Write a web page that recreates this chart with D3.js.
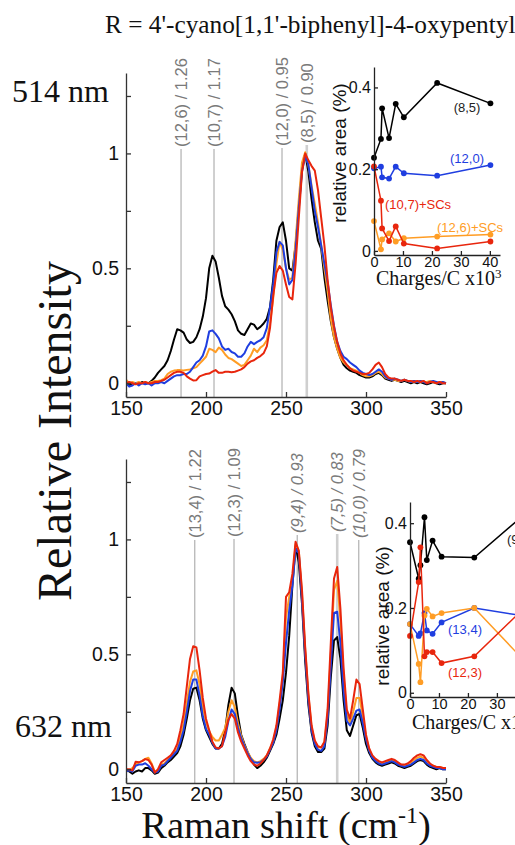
<!DOCTYPE html>
<html><head><meta charset="utf-8">
<script src="https://cdn.jsdelivr.net/npm/d3@7"></script>
<style>
  body { margin: 0; background: #fff; }
  svg { display: block; }
</style>
</head><body>
<svg id="fig" width="515" height="845"></svg>
<script>
// Raman shift grid (cm^-1) shared by all spectra
const shift = d3.range(150, 351, 2);

// 514 nm excitation, normalised intensity
const s514Black = [0.005,-0.01,0,0,-0.005,0.005,0,0,0.01,0.025,0.045,0.06,0.075,0.1,0.14,0.19,0.235,0.23,0.22,0.19,0.175,0.18,0.2,0.235,0.29,0.37,0.5,0.555,0.53,0.46,0.38,0.335,0.32,0.3,0.27,0.23,0.215,0.21,0.235,0.26,0.255,0.235,0.245,0.26,0.28,0.33,0.45,0.62,0.68,0.7,0.62,0.5,0.49,0.6,0.77,0.93,1.0,0.92,0.8,0.7,0.62,0.585,0.46,0.36,0.27,0.2,0.15,0.11,0.08,0.065,0.055,0.05,0.045,0.035,0.03,0.025,0.025,0.03,0.04,0.045,0.035,0.02,0.015,0.01,0.015,0.01,0.005,0.01,0.005,0,0.005,0,0.005,0,-0.005,0,0.005,0,-0.005,0,0];
const s514Blue = [0,-0.015,-0.01,0,-0.01,0,-0.005,0,-0.01,0,0,0.005,0,0.01,0.02,0.03,0.035,0.035,0.04,0.04,0.05,0.07,0.09,0.1,0.12,0.16,0.225,0.23,0.215,0.195,0.16,0.145,0.15,0.136,0.13,0.115,0.115,0.13,0.16,0.18,0.17,0.18,0.187,0.2,0.24,0.33,0.43,0.57,0.615,0.6,0.5,0.43,0.45,0.58,0.76,0.92,0.99,0.95,0.85,0.75,0.68,0.6,0.52,0.44,0.34,0.25,0.18,0.14,0.115,0.105,0.09,0.08,0.07,0.055,0.045,0.04,0.035,0.04,0.05,0.06,0.05,0.03,0.02,0.015,0.02,0.015,0.01,0.015,0.01,0.005,0.01,0.005,0.01,0.005,0,0.005,0.01,0.005,0,0.005,0];
const s514Orange = [0.015,0,0.005,0,0.005,0,0.005,0,0.005,0.01,0.01,0.013,0.02,0.04,0.05,0.055,0.057,0.057,0.055,0.058,0.06,0.065,0.07,0.085,0.1,0.115,0.15,0.145,0.135,0.155,0.145,0.125,0.11,0.105,0.095,0.085,0.075,0.08,0.1,0.12,0.15,0.135,0.155,0.165,0.187,0.26,0.37,0.52,0.615,0.58,0.5,0.45,0.46,0.62,0.8,0.96,1.005,0.95,0.86,0.78,0.7,0.6,0.5,0.4,0.28,0.2,0.15,0.11,0.09,0.08,0.065,0.06,0.055,0.045,0.035,0.03,0.03,0.035,0.045,0.05,0.04,0.025,0.02,0.015,0.015,0.01,0.01,0.015,0.01,0.005,0.01,0.005,0.01,0.005,0.005,0.01,0.005,0,0.005,0.005,0];
const s514Red = [0,0.005,0,-0.005,0,0,0.005,0,0,0.005,0.005,0.01,0.015,0.025,0.035,0.045,0.05,0.05,0.045,0.03,0.02,0.012,0.013,0.03,0.035,0.04,0.042,0.05,0.057,0.045,0.045,0.05,0.05,0.048,0.05,0.055,0.06,0.07,0.085,0.095,0.1,0.11,0.118,0.13,0.16,0.24,0.38,0.48,0.51,0.49,0.43,0.375,0.365,0.52,0.72,0.92,1.0,0.97,0.945,0.925,0.84,0.72,0.6,0.45,0.33,0.245,0.18,0.13,0.1,0.08,0.065,0.055,0.05,0.045,0.04,0.04,0.045,0.06,0.08,0.09,0.07,0.04,0.025,0.02,0.02,0.015,0.01,0.015,0.01,0.01,0.005,0.01,0.005,0.01,0,0.005,0.005,0,0.005,0,0];

// 632 nm excitation, normalised intensity
const s632Black = [0,-0.01,-0.02,-0.01,-0.005,-0.01,0.005,0.005,-0.005,-0.02,-0.015,0.005,0.015,0.03,0.04,0.055,0.07,0.1,0.15,0.22,0.3,0.35,0.355,0.3,0.22,0.17,0.14,0.11,0.09,0.09,0.11,0.17,0.28,0.355,0.33,0.23,0.15,0.11,0.075,0.045,0.02,0.005,0.015,0.03,0.05,0.08,0.11,0.15,0.22,0.3,0.42,0.58,0.8,0.97,0.9,0.72,0.47,0.28,0.16,0.1,0.075,0.075,0.09,0.19,0.4,0.56,0.575,0.48,0.3,0.17,0.145,0.19,0.235,0.24,0.18,0.11,0.07,0.045,0.03,0.02,0.015,0.02,0.025,0.03,0.025,0.015,0.01,0.005,0.01,0.015,0.025,0.035,0.04,0.035,0.02,0.01,0.005,0,0.005,0,0];
const s632Blue = [-0.01,-0.005,-0.01,0.015,0.02,0.02,0.026,0.015,0,-0.015,-0.01,0.015,0.02,0.035,0.05,0.065,0.08,0.12,0.17,0.25,0.34,0.39,0.39,0.32,0.23,0.175,0.15,0.115,0.09,0.09,0.1,0.14,0.21,0.26,0.24,0.18,0.135,0.1,0.07,0.045,0.03,0.028,0.03,0.04,0.055,0.085,0.115,0.17,0.26,0.38,0.55,0.69,0.8,0.96,0.94,0.74,0.5,0.3,0.17,0.11,0.085,0.08,0.1,0.22,0.45,0.68,0.685,0.55,0.34,0.21,0.19,0.22,0.255,0.26,0.2,0.13,0.08,0.05,0.035,0.025,0.02,0.025,0.03,0.035,0.03,0.02,0.015,0.01,0.015,0.02,0.03,0.04,0.045,0.04,0.025,0.015,0.01,0.005,0.005,0,0];
const s632Orange = [0,-0.005,0.005,0.02,0.03,0.035,0.045,0.05,0.025,-0.01,-0.005,0.02,0.025,0.04,0.055,0.07,0.09,0.14,0.2,0.29,0.38,0.425,0.43,0.37,0.27,0.205,0.165,0.14,0.125,0.125,0.15,0.18,0.25,0.3,0.27,0.2,0.145,0.105,0.075,0.05,0.035,0.03,0.035,0.045,0.06,0.09,0.12,0.18,0.28,0.4,0.66,0.75,0.82,0.98,0.95,0.76,0.52,0.32,0.18,0.12,0.095,0.095,0.115,0.24,0.5,0.78,0.82,0.65,0.4,0.24,0.2,0.25,0.31,0.31,0.23,0.14,0.085,0.055,0.04,0.03,0.025,0.03,0.035,0.04,0.035,0.025,0.02,0.015,0.02,0.03,0.04,0.05,0.055,0.05,0.035,0.02,0.015,0.01,0.01,0.005,0.005];
const s632Red = [0,0,-0.005,0.032,0.03,0.035,0.044,0.04,0.02,-0.015,0,0.03,0.04,0.05,0.06,0.08,0.11,0.17,0.24,0.36,0.48,0.535,0.53,0.43,0.31,0.22,0.17,0.12,0.095,0.09,0.1,0.16,0.215,0.24,0.22,0.16,0.12,0.09,0.06,0.035,0.02,0.015,0.025,0.04,0.06,0.09,0.13,0.19,0.3,0.42,0.75,0.77,0.85,0.99,0.95,0.78,0.53,0.33,0.19,0.125,0.1,0.095,0.12,0.26,0.55,0.83,0.88,0.7,0.44,0.26,0.22,0.3,0.39,0.37,0.26,0.15,0.09,0.06,0.045,0.035,0.03,0.035,0.04,0.045,0.04,0.03,0.02,0.02,0.025,0.035,0.05,0.06,0.065,0.06,0.04,0.025,0.015,0.01,0.01,0.005,0.005];

// Assigned RBM peaks: [label, shift, italic, highlighted]
const peaks514 = [["(12,6) / 1.26", 184.4, false, false], ["(10,7) / 1.17", 205, false, false], ["(12,0) / 0.95", 247.5, false, false], ["(8,5) / 0.90", 263, false, true]];
const peaks632 = [["(13,4) / 1.22", 193, false, false], ["(12,3) / 1.09", 217.5, false, false], ["(9,4) / 0.93", 257, true, false], ["(7,5) / 0.83", 282, true, true], ["(10,0) / 0.79", 295.5, true, false]];

// Doping series: relative area vs charges per carbon (x10^3)
const charge514 = [0, 2.4, 2.8, 5.2, 7.5, 10.3, 21.8, 40.2];
const area514_85 = [0.228, 0.274, 0.349, 0.276, 0.36, 0.327, 0.411, 0.361];
const area514_120 = [0.202, 0.206, 0.18, 0.177, 0.206, 0.19, 0.184, 0.21];
const area514_107 = [0.207, 0.123, 0.055, 0.024, 0.06, 0.018, 0.006, 0.023];
const area514_126 = [0.073, 0.004, 0.028, 0.043, 0.023, 0.031, 0.035, 0.04];

const charge632 = [0, 3.0, 3.6, 5.0, 5.8, 7.8, 10.9, 22.2, 40.2];
const area632_94 = [0.355, 0.269, 0.301, 0.414, 0.313, 0.359, 0.321, 0.319, 0.425];
const area632_134 = [0.162, 0.134, 0.14, 0.188, 0.147, 0.139, 0.166, 0.2, 0.18];
const area632_123 = [0.134, 0.261, 0.343, 0.086, 0.096, 0.096, 0.07, 0.086, 0.205];
const area632_SC = [0.162, 0.068, 0.025, 0.182, 0.198, 0.18, 0.188, 0.2, 0.07];

const C = { black: "#000000", blue: "#1f3ee0", orange: "#ff9d25", red: "#e8260d" };
const SANS = "'Liberation Sans', Arial, sans-serif";
const SERIF = "'Liberation Serif', 'Times New Roman', serif";

const svg = d3.select("#fig");
const x = d3.scaleLinear().domain([150, 350]).range([126, 446]);

function spectrumPanel(y0, y1, spectra, peaks, labelBottom) {
  const y = d3.scaleLinear().domain([-0.06, 1.35]).range([y1, y0]);
  const g = svg.append("g");

  // peak assignment markers
  peaks.forEach(([txt, v, ital, hi], i) => {
    const px = x(v);
    g.append("line")
      .attr("x1", px).attr("x2", px)
      .attr("y1", labelBottom[i] + 2).attr("y2", y1)
      .attr("stroke", hi ? "#cfcfcf" : "#a0a0a0")
      .attr("stroke-width", hi ? 2.6 : 1);
    g.append("text")
      .attr("transform", `translate(${px},${labelBottom[i]}) rotate(-90)`)
      .attr("dy", "0.36em")
      .attr("font-family", SANS).attr("font-size", 16.5)
      .attr("font-style", ital ? "italic" : "normal")
      .attr("fill", "#7a7a7a")
      .text(txt);
  });

  const clipId = "clip" + y0;
  svg.append("clipPath").attr("id", clipId)
    .append("rect").attr("x", 127).attr("y", y0).attr("width", 320).attr("height", y1 - y0 - 1);

  const line = d3.line().x((d, i) => x(shift[i])).y(d => y(d));
  const lg = g.append("g").attr("clip-path", `url(#${clipId})`);
  spectra.forEach(([vals, col]) => {
    lg.append("path").datum(vals)
      .attr("d", line).attr("fill", "none")
      .attr("stroke", col).attr("stroke-width", 2).attr("stroke-linejoin", "round");
  });

  const ax = g.append("g").attr("transform", `translate(0,${y1})`)
    .call(d3.axisBottom(x).tickValues([150, 200, 250, 300, 350]).tickSize(-5).tickSizeOuter(0).tickPadding(4));
  const ay = g.append("g").attr("transform", "translate(126,0)")
    .call(d3.axisLeft(y).tickValues([0, 0.25, 0.5, 0.75, 1, 1.25]).tickSize(-5).tickSizeOuter(0).tickPadding(7)
      .tickFormat(d => (d === 0 || d === 0.5 || d === 1) ? d3.format("")(d) : ""));
  [ax, ay].forEach(a => {
    a.selectAll("path,line").attr("stroke", "#333").attr("stroke-width", 1.3);
    a.selectAll("text").attr("font-family", SANS).attr("font-size", 19.5).attr("fill", "#111");
  });
}

spectrumPanel(73, 397,
  [[s514Black, C.black], [s514Orange, C.orange], [s514Blue, C.blue], [s514Red, C.red]],
  peaks514, [147, 147, 146, 143]);
spectrumPanel(459, 783,
  [[s632Black, C.black], [s632Orange, C.orange], [s632Blue, C.blue], [s632Red, C.red]],
  peaks632, [538, 537, 533, 532, 538]);

function inset(left, top, bottom, series, labels, xLabelX, xLabelGap, yLabelX, yLabelY) {
  const xs = d3.scaleLinear().domain([0, 43.5]).range([left, left + 126]);
  const ys = d3.scaleLinear().domain([-0.01, 0.45]).range([bottom, top]);
  const g = svg.append("g");
  const ln = d3.line().x(d => xs(d[0])).y(d => ys(d[1]));
  series.forEach(([xv, yv, col]) => {
    const pts = xv.map((c, i) => [c, yv[i]]);
    g.append("path").datum(pts).attr("d", ln).attr("fill", "none")
      .attr("stroke", col).attr("stroke-width", 1.5);
    g.selectAll(null).data(pts).enter().append("circle")
      .attr("cx", d => xs(d[0])).attr("cy", d => ys(d[1])).attr("r", 2.9).attr("fill", col);
  });
  const ax = g.append("g").attr("transform", `translate(0,${bottom})`)
    .call(d3.axisBottom(xs).tickValues([0, 10, 20, 30, 40]).tickSize(-4).tickSizeOuter(0).tickPadding(2));
  const ay = g.append("g").attr("transform", `translate(${left},0)`)
    .call(d3.axisLeft(ys).tickValues([0, 0.2, 0.4]).tickSize(-4).tickSizeOuter(0).tickPadding(3)
      .tickFormat(d3.format("")));
  [ax, ay].forEach(a => {
    a.selectAll("path,line").attr("stroke", "#222").attr("stroke-width", 1.3);
    a.selectAll("text").attr("font-family", SANS).attr("font-size", 16).attr("fill", "#111");
  });
  ax.selectAll("text").attr("font-size", 14.5);

  g.append("text")
    .attr("transform", `translate(${yLabelX},${yLabelY}) rotate(-90)`)
    .attr("text-anchor", "middle")
    .attr("font-family", SANS).attr("font-size", 19).attr("fill", "#111")
    .text("relative area (%)");
  const xl = g.append("text").attr("x", xLabelX).attr("y", bottom + xLabelGap)
    .attr("font-family", SERIF).attr("font-size", 20).attr("fill", "#111");
  xl.append("tspan").text("Charges/C x10");
  xl.append("tspan").attr("font-size", 13).attr("dy", -7).text("3");

  labels.forEach(([txt, lx, ly, col, anchor]) => {
    g.append("text").attr("x", lx).attr("y", ly).attr("text-anchor", anchor)
      .attr("font-family", SANS).attr("font-size", 13).attr("fill", col).text(txt);
  });
}

inset(374, 67, 255,
  [[charge514, area514_85, C.black], [charge514, area514_120, C.blue],
   [charge514, area514_126, C.orange], [charge514, area514_107, C.red]],
  [["(8,5)", 467, 112, "#222", "middle"], ["(12,0)", 467, 163, C.blue, "middle"],
   ["(10,7)+SCs", 385, 209, C.red, "start"], ["(12,6)+SCs", 437, 232, C.orange, "start"]],
  376, 30, 346, 153);

inset(410, 502, 697,
  [[charge632, area632_94, C.black], [charge632, area632_134, C.blue],
   [charge632, area632_SC, C.orange], [charge632, area632_123, C.red]],
  [["(9,4)", 507, 544, "#222", "start"], ["(13,4)", 448, 634, C.blue, "start"],
   ["(12,3)", 448, 677, C.red, "start"]],
  412, 32, 389, 616);

// titles and axis captions
svg.append("text").attr("x", 105).attr("y", 33)
  .attr("font-family", SERIF).attr("font-size", 25.3).attr("fill", "#111")
  .text("R = 4'-cyano[1,1'-biphenyl]-4-oxypentyl");
svg.append("text").attr("x", 12).attr("y", 102)
  .attr("font-family", SERIF).attr("font-size", 32).attr("fill", "#111").text("514 nm");
svg.append("text").attr("x", 15).attr("y", 737)
  .attr("font-family", SERIF).attr("font-size", 32).attr("fill", "#111").text("632 nm");
svg.append("text")
  .attr("transform", "translate(71,431) rotate(-90)")
  .attr("text-anchor", "middle")
  .attr("font-family", SERIF).attr("font-size", 48).attr("fill", "#111")
  .text("Relative Intensity");
const xt = svg.append("text").attr("x", 286).attr("y", 838).attr("text-anchor", "middle")
  .attr("font-family", SERIF).attr("font-size", 38.5).attr("fill", "#111");
xt.append("tspan").text("Raman shift (cm");
xt.append("tspan").attr("font-size", 24).attr("dy", -15).text("-1");
xt.append("tspan").attr("dy", 15).text(")");
</script>
</body></html>
